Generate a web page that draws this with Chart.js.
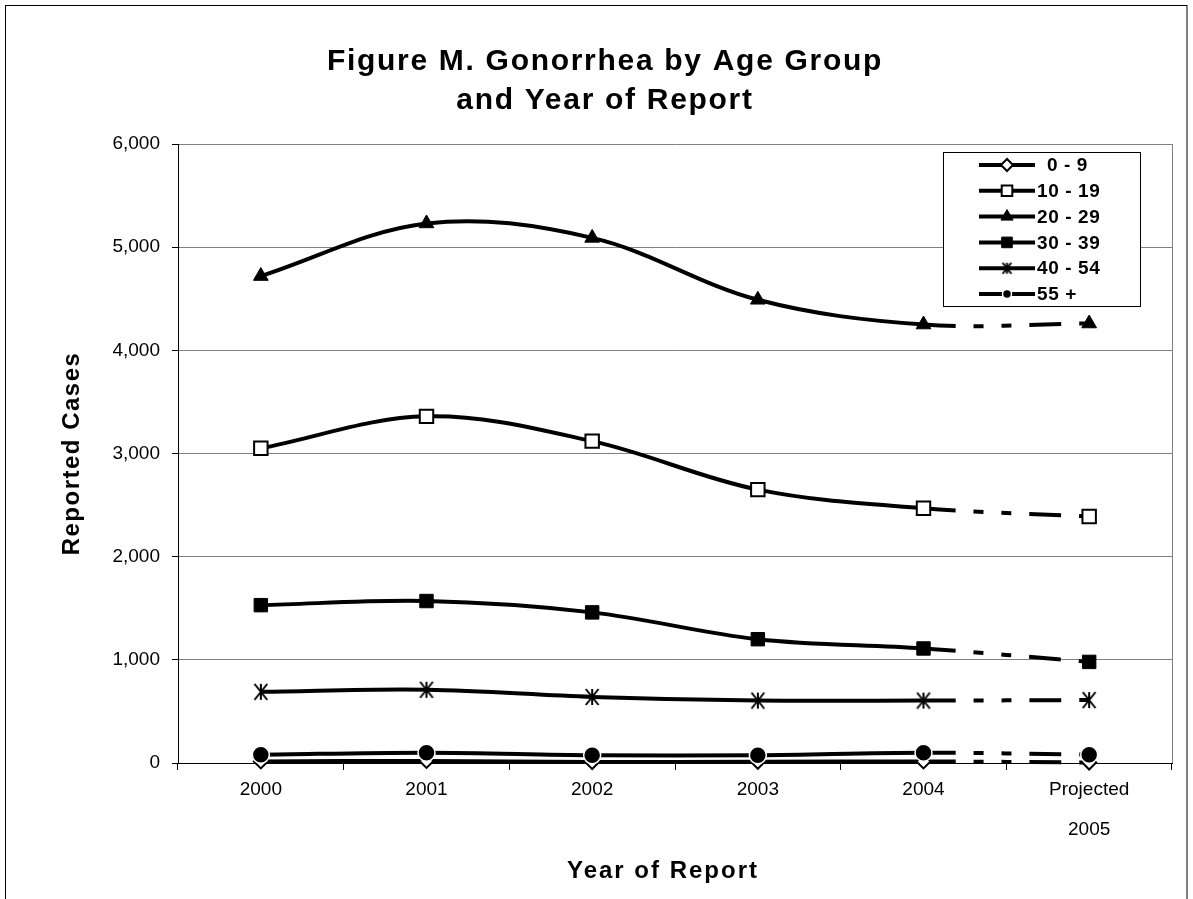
<!DOCTYPE html>
<html>
<head>
<meta charset="utf-8">
<title>Figure M. Gonorrhea by Age Group and Year of Report</title>
<script src="https://cdn.jsdelivr.net/npm/chart.js@4.4.1/dist/chart.umd.min.js"></script>
<style>
    html, body { margin: 0; padding: 0; background: #fff; }
    #wrap { width: 1193px; height: 899px; }
</style>
</head>
<body>
<div id="wrap"><canvas id="gonorrheaChart" width="1193" height="899"></canvas></div>
<script>
// Data
const years = ["2000", "2001", "2002", "2003", "2004", ["Projected", "2005"]];
const ageGroups = ["0 - 9", "10 - 19", "20 - 29", "30 - 39", "40 - 54", "55 +"];

const cases0to9 = [15, 20, 10, 12, 15, 5];
const cases10to19 = [3050, 3360, 3120, 2650, 2470, 2390];
const cases20to29 = [4720, 5230, 5090, 4490, 4250, 4260];
const cases30to39 = [1530, 1570, 1460, 1200, 1110, 980];
const cases40to54 = [690, 710, 640, 605, 605, 610];
const cases55plus = [80, 100, 75, 75, 100, 80];

const yTickValues = [0, 1000, 2000, 3000, 4000, 5000, 6000];

const FONT = "'Liberation Sans', Arial, sans-serif";
const projectedDash = [32, 18, 10, 18, 10, 18];

// asterisk marker (X with a vertical bar)
function makeAsterisk(size, width) {
    const c = document.createElement("canvas");
    c.width = size;
    c.height = size;
    const g = c.getContext("2d");
    g.strokeStyle = "#000";
    g.lineWidth = width;
    const m = size / 2, r = size / 2 - 2;
    g.beginPath();
    g.moveTo(m - r * 0.8, m - r);
    g.lineTo(m + r * 0.8, m + r);
    g.moveTo(m + r * 0.8, m - r);
    g.lineTo(m - r * 0.8, m + r);
    g.moveTo(m, m - r);
    g.lineTo(m, m + r);
    g.stroke();
    return c;
}
const asteriskBig = makeAsterisk(20, 2);
const asteriskSmall = makeAsterisk(15, 2);

const markers = [
    { style: "rectRot", radius: 7, fill: "#fff", border: "#000", borderWidth: 2, legendRadius: 6 },
    { style: "rect", radius: 9.5, fill: "#fff", border: "#000", borderWidth: 2, legendRadius: 7.5 },
    { style: "triangle", radius: 8.5, fill: "#000", border: "#000", borderWidth: 1, legendRadius: 7 },
    { style: "rect", radius: 9.5, fill: "#000", border: "#000", borderWidth: 1, legendRadius: 7.5 },
    { style: asteriskBig, radius: 9, fill: "#000", border: "#000", borderWidth: 0, legendStyle: asteriskSmall, legendRadius: 7 },
    { style: "circle", radius: 8.5, fill: "#000", border: "#fff", borderWidth: 1.5, legendRadius: 4.5 }
];

const seriesValues = [cases0to9, cases10to19, cases20to29, cases30to39, cases40to54, cases55plus];

const datasets = seriesValues.map((values, i) => ({
    label: ageGroups[i],
    data: values,
    borderColor: "#000",
    borderWidth: 4,
    tension: 0.35,
    fill: false,
    clip: false,
    order: seriesValues.length - 1 - i,
    pointStyle: markers[i].style,
    pointRadius: markers[i].radius,
    pointBackgroundColor: markers[i].fill,
    pointBorderColor: markers[i].border,
    pointBorderWidth: markers[i].borderWidth,
    segment: {
        borderDash: ctx => ctx.p0DataIndex === values.length - 2 ? projectedDash : undefined
    }
}));

// widen the bold texts a little, as in the original
function spaceOut(chart, target, method, spacing, shiftX) {
    if (!target || target["_spaced_" + method]) return;
    const original = target[method].bind(target);
    target[method] = function (...args) {
        const ctx = chart.ctx;
        ctx.save();
        ctx.letterSpacing = spacing;
        ctx.translate(shiftX, 0);
        original(...args);
        ctx.restore();
    };
    target["_spaced_" + method] = true;
}

const chartFrame = {
    id: "chartFrame",
    afterLayout(chart) {
        spaceOut(chart, chart.titleBlock, "draw", "1.7px", 15);
        spaceOut(chart, chart.scales.x, "drawTitle", "2px", -12);
        spaceOut(chart, chart.scales.y, "drawTitle", "1.5px", 0);
    },
    afterDraw(chart) {
        const ctx = chart.ctx;
        const area = chart.chartArea;
        ctx.save();

        // plot area right edge
        ctx.strokeStyle = "#808080";
        ctx.lineWidth = 1;
        ctx.beginPath();
        ctx.moveTo(Math.round(area.right) + 0.5, area.top);
        ctx.lineTo(Math.round(area.right) + 0.5, area.bottom);
        ctx.stroke();

        // outer frame
        ctx.strokeStyle = "#000";
        ctx.strokeRect(5.5, 5.5, 1181.5, 1000);

        // legend
        const box = { x: 943.5, y: 152.5, w: 197, h: 154 };
        ctx.fillStyle = "#fff";
        ctx.fillRect(box.x, box.y, box.w, box.h);
        ctx.strokeStyle = "#000";
        ctx.lineWidth = 1;
        ctx.strokeRect(box.x, box.y, box.w, box.h);

        ctx.font = "bold 19px " + FONT;
        ctx.letterSpacing = "0.6px";
        ctx.textBaseline = "middle";
        ctx.textAlign = "left";
        chart.data.datasets.forEach((ds, i) => {
            const y = 165 + i * 25.8;
            ctx.strokeStyle = "#000";
            ctx.lineWidth = 4;
            ctx.beginPath();
            ctx.moveTo(979, y);
            ctx.lineTo(1035, y);
            ctx.stroke();

            const m = markers[i];
            ctx.fillStyle = m.fill;
            ctx.strokeStyle = m.border;
            ctx.lineWidth = m.borderWidth;
            Chart.helpers.drawPoint(ctx, {
                pointStyle: m.legendStyle || m.style,
                radius: m.legendRadius,
                rotation: 0,
                borderWidth: m.borderWidth
            }, 1007, y);

            ctx.fillStyle = "#000";
            ctx.fillText(ds.label, i === 0 ? 1047 : 1037, y + 1);
        });
        ctx.restore();
    }
};

const ctx = document.getElementById("gonorrheaChart").getContext("2d");
new Chart(ctx, {
    type: "line",
    data: {
        labels: years,
        datasets: datasets
    },
    plugins: [chartFrame],
    options: {
        responsive: false,
        animation: false,
        layout: {
            padding: { left: 8, right: 21, top: 0, bottom: 0 }
        },
        plugins: {
            legend: { display: false },
            tooltip: { enabled: false },
            title: {
                display: true,
                text: ["Figure M. Gonorrhea by Age Group", "and Year of Report"],
                color: "#000",
                font: { family: FONT, size: 30, weight: "bold", lineHeight: 1.3 },
                padding: { top: 42, bottom: 24 }
            }
        },
        scales: {
            x: {
                offset: true,
                afterFit: scale => { scale.height = 136; },
                grid: {
                    offset: true,
                    drawOnChartArea: false,
                    tickLength: 7,
                    tickColor: "#000"
                },
                border: { color: "#000", width: 1 },
                ticks: {
                    color: "#000",
                    padding: 0,
                    maxRotation: 0,
                    font: { family: FONT, size: 19, lineHeight: 2.1 }
                },
                title: {
                    display: true,
                    text: "Year of Report",
                    color: "#000",
                    font: { family: FONT, size: 24, weight: "bold", lineHeight: 1.2 },
                    padding: { top: 0, bottom: 13 }
                }
            },
            y: {
                min: 0,
                max: 6000,
                afterFit: scale => { scale.width = 170; },
                afterBuildTicks: scale => { scale.ticks = yTickValues.map(v => ({ value: v })); },
                grid: {
                    color: "#808080",
                    lineWidth: 1,
                    tickLength: 6,
                    tickColor: "#000"
                },
                border: { color: "#000", width: 1 },
                ticks: {
                    color: "#000",
                    padding: 12,
                    font: { family: FONT, size: 19 },
                    callback: v => v.toLocaleString("en-US")
                },
                title: {
                    display: true,
                    text: "Reported Cases",
                    color: "#000",
                    font: { family: FONT, size: 24, weight: "bold", lineHeight: 1.2 },
                    padding: { top: 50, bottom: 0 }
                }
            }
        }
    }
});
</script>
</body>
</html>
